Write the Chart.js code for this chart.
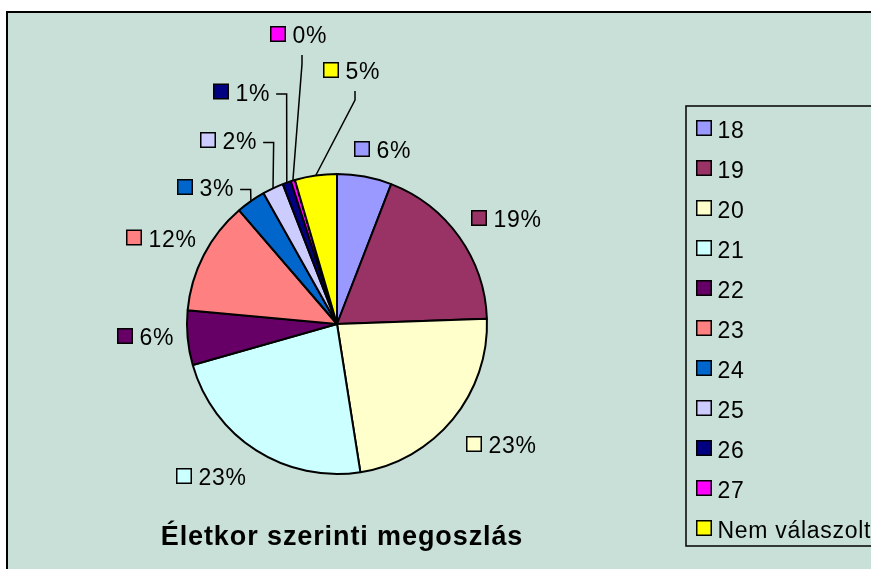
<!DOCTYPE html>
<html>
<head>
<meta charset="utf-8">
<script src="https://cdn.jsdelivr.net/npm/chart.js@4.4.1/dist/chart.umd.min.js"></script>
<style>
body{margin:0;background:#fff;}
canvas{display:block;}
</style>
<script>
var ages=["18","19","20","21","22","23","24","25","26","27","Nem válaszolt"];
var counts=[13,41,51,51,13,27,7,5,2,1,10];
var colors=["#9999FF","#993366","#FFFFCC","#CCFFFF","#660066","#FF8080","#0066CC","#CCCCFF","#000080","#FF00FF","#FFFF00"];
var title="Életkor szerinti megoszlás";

// percent label spot: swatch left edge / vertical middle, from pie centre
var labelPos=[[17,-175],[134,-106],[129,120],[-161,152],[-220,12],[-211,-86.5],[-160,-137],[-137,-184],[-124,-232.5],[-67,-290],[-14,-254]];
// 0 no line, 1 hook out to the right, 2 line down from under the label
var leader=[0,0,0,0,0,0,1,1,1,2,2];

var bg="rgb(200,224,216)";
var font='"Liberation Sans", Arial, sans-serif';

function swatch(c,x,cy,col){
	c.fillStyle=col;
	c.fillRect(x+1,cy-7,14,14);
	c.lineWidth=1.5;
	c.strokeStyle="#000";
	c.strokeRect(x+0.75,cy-7.25,14.5,14.5);
}

var decor={
	id:"decor",
	beforeDraw:function(chart){
		var c=chart.ctx;
		c.save();
		c.fillStyle="#fff";
		c.fillRect(0,0,chart.width,chart.height);
		c.fillStyle=bg;
		c.fillRect(7,12,chart.width,chart.height);
		c.strokeStyle="#000";
		c.lineWidth=2;
		c.beginPath();
		c.moveTo(7,chart.height+5);
		c.lineTo(7,12);
		c.lineTo(chart.width+5,12);
		c.stroke();
		c.restore();
	},
	afterDraw:function(chart){
		var c=chart.ctx;
		var meta=chart.getDatasetMeta(0);
		var total=counts.reduce(function(a,b){return a+b;},0);
		c.save();
		c.font="23px "+font;
		c.letterSpacing="0.7px";
		c.textBaseline="alphabetic";
		meta.data.forEach(function(arc,i){
			var p=arc.getProps(["x","y","startAngle","endAngle","outerRadius"]);
			var lx=p.x+labelPos[i][0], ly=p.y+labelPos[i][1];
			var txt=Math.round(counts[i]/total*100)+"%";
			swatch(c,lx,ly,colors[i]);
			c.fillStyle="#000";
			c.fillText(txt,lx+22.5,ly+9);
			var mid=(p.startAngle+p.endAngle)/2;
			var ex=p.x+p.outerRadius*Math.cos(mid), ey=p.y+p.outerRadius*Math.sin(mid);
			c.strokeStyle="#000";
			c.lineWidth=1.5;
			if(leader[i]==1){
				var sx=lx+22.5+c.measureText(txt).width+6;
				c.beginPath();
				c.moveTo(sx,ly+2.5);
				c.lineTo(sx+10.5,ly+2.5);
				c.lineTo(ex,ey);
				c.stroke();
			}else if(leader[i]==2){
				c.beginPath();
				c.moveTo(lx+32,ly+21);
				c.lineTo(lx+32,ly+30);
				c.lineTo(ex,ey);
				c.stroke();
			}
		});

		// legend box, runs off the right edge like the original
		c.lineWidth=1.5;
		c.strokeStyle="#000";
		c.strokeRect(686,106,chart.width,440);
		ages.forEach(function(a,i){
			var y=128+i*40;
			swatch(c,696,y,colors[i]);
			c.fillStyle="#000";
			c.fillText(a,717.5,y+9.5);
		});

		c.font="bold 27px "+font;
		c.letterSpacing="0.9px";
		c.textAlign="center";
		c.fillText(title,342,545);
		c.restore();
	}
};
</script>
</head>
<body>

<canvas id="myChart" width="871" height="569"></canvas>

<script>
new Chart("myChart",{
	type:"pie",
	data:{
		labels:ages,
		datasets:[{
			data:counts,
			backgroundColor:colors,
			borderColor:"#000",
			borderWidth:2
		}]
	},
	options:{
		responsive:false,
		devicePixelRatio:1,
		animation:false,
		radius:150,
		layout:{padding:{left:177,right:374,top:164,bottom:85}},
		plugins:{
			legend:{display:false},
			tooltip:{enabled:false}
		}
	},
	plugins:[decor]
});
</script>

</body>
</html>
